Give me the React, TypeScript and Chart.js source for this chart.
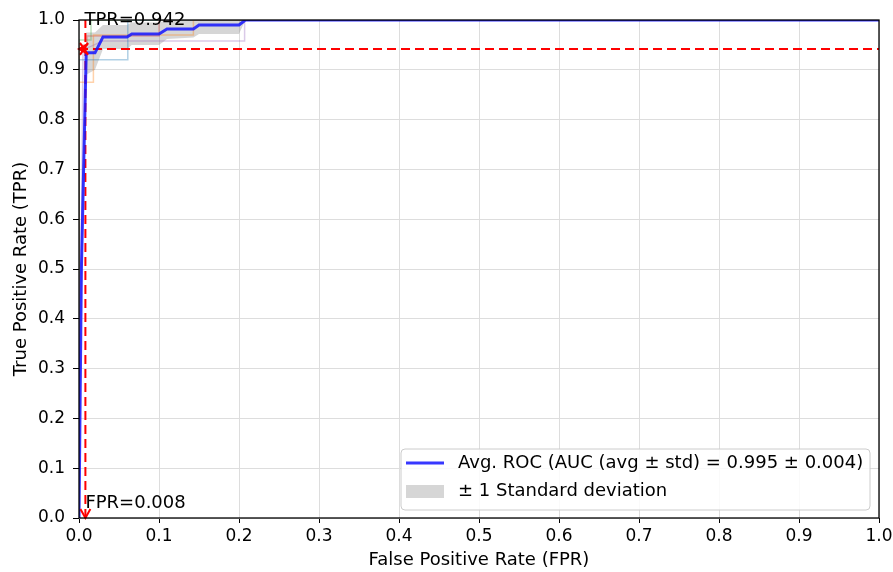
import React, { useEffect, useRef } from 'react';
import { Chart, registerables } from 'chart.js';

Chart.register(...registerables);

// ---- data ----
const axisTicks = [0, 0.1, 0.2, 0.3, 0.4, 0.5, 0.6, 0.7, 0.8, 0.9, 1.0];

const meanFpr = [0, 0.003, 0.009, 0.02, 0.03, 0.06, 0.066, 0.1, 0.11, 0.143, 0.15, 0.2, 0.208, 1.0];
const meanTpr = [0, 0.5, 0.934, 0.934, 0.966, 0.966, 0.972, 0.972, 0.982, 0.982, 0.99, 0.99, 1.0, 1.0];
const stdUpper = [0, 0.6, 0.975, 0.975, 0.99, 0.99, 0.995, 0.995, 1.0, 1.0, 1.0, 1.0, 1.0, 1.0];
const stdLower = [0, 0.4, 0.89, 0.9, 0.942, 0.942, 0.95, 0.95, 0.962, 0.965, 0.972, 0.972, 1.0, 1.0];

const fold1Fpr = [0, 0, 0.061, 0.061, 1.0];
const fold1Tpr = [0, 0.92, 0.92, 1.0, 1.0];
const fold2Fpr = [0, 0, 0.018, 0.018, 0.143, 0.143, 1.0];
const fold2Tpr = [0, 0.875, 0.875, 0.97, 0.97, 1.0, 1.0];
const fold3Fpr = [0, 0.005, 0.03, 0.207, 0.207, 1.0];
const fold3Tpr = [0, 0.94, 0.958, 0.958, 1.0, 1.0];
const fold4Fpr = [0, 0, 0.01, 0.01, 0.1, 0.1, 1.0];
const fold4Tpr = [0, 0.95, 0.95, 0.968, 0.968, 1.0, 1.0];
const fold5Fpr = [0, 0, 0.015, 0.015, 1.0];
const fold5Tpr = [0, 0.96, 0.96, 1.0, 1.0];

const thresholdFpr = 0.008;
const thresholdTpr = 0.942;

const legendLabels = ['Avg. ROC (AUC (avg \u00b1 std) = 0.995 \u00b1 0.004)', '\u00b1 1 Standard deviation'];
const xTitle = 'False Positive Rate (FPR)';
const yTitle = 'True Positive Rate (TPR)';

const FONT = '"DejaVu Sans", sans-serif';
const meanColor = 'rgba(20,20,255,0.85)';
const bandColor = 'rgba(128,128,128,0.32)';

const pts = (xs: number[], ys: number[]) => xs.map((x, i) => ({ x, y: ys[i] }));

const overlayPlugin = {
  id: 'overlay',
  afterDatasetsDraw(chart: any) {
    const { ctx, chartArea: a, scales } = chart;
    const x = scales.x;
    const y = scales.y;
    ctx.save();
    // arrowheads
    ctx.strokeStyle = 'red';
    ctx.lineWidth = 2;
    const ax = x.getPixelForValue(thresholdFpr);
    const ay = y.getPixelForValue(0);
    ctx.beginPath();
    ctx.moveTo(ax - 5, ay - 9);
    ctx.lineTo(ax, ay);
    ctx.lineTo(ax + 5, ay - 9);
    ctx.stroke();
    const bx = x.getPixelForValue(0);
    const by = y.getPixelForValue(thresholdTpr);
    ctx.beginPath();
    ctx.moveTo(bx + 9, by - 5);
    ctx.lineTo(bx, by);
    ctx.lineTo(bx + 9, by + 5);
    ctx.stroke();
    ctx.beginPath();
    ctx.moveTo(bx + 1, by - 6);
    ctx.lineTo(bx + 9, by + 6);
    ctx.moveTo(bx + 1, by + 6);
    ctx.lineTo(bx + 9, by - 6);
    ctx.stroke();

    // spines
    ctx.strokeStyle = '#000';
    ctx.lineWidth = 1.3;
    ctx.strokeRect(a.left, a.top, a.right - a.left, a.bottom - a.top);

    // annotation texts
    ctx.fillStyle = '#000';
    ctx.font = `18px ${FONT}`;
    ctx.textBaseline = 'alphabetic';
    ctx.textAlign = 'left';
    ctx.fillText('TPR=0.942', x.getPixelForValue(thresholdFpr) - 1, a.top + 5);
    ctx.fillText('FPR=0.008', x.getPixelForValue(thresholdFpr), y.getPixelForValue(0.02));

    // legend
    const lx = 401, ly = 449, lw = 469, lh = 61, r = 4;
    ctx.beginPath();
    ctx.moveTo(lx + r, ly);
    ctx.lineTo(lx + lw - r, ly);
    ctx.arcTo(lx + lw, ly, lx + lw, ly + r, r);
    ctx.lineTo(lx + lw, ly + lh - r);
    ctx.arcTo(lx + lw, ly + lh, lx + lw - r, ly + lh, r);
    ctx.lineTo(lx + r, ly + lh);
    ctx.arcTo(lx, ly + lh, lx, ly + lh - r, r);
    ctx.lineTo(lx, ly + r);
    ctx.arcTo(lx, ly, lx + r, ly, r);
    ctx.closePath();
    ctx.fillStyle = 'rgba(255,255,255,0.85)';
    ctx.fill();
    ctx.strokeStyle = '#cccccc';
    ctx.lineWidth = 1;
    ctx.stroke();

    ctx.strokeStyle = meanColor;
    ctx.lineWidth = 3;
    ctx.beginPath();
    ctx.moveTo(406, 463);
    ctx.lineTo(444, 463);
    ctx.stroke();
    ctx.fillStyle = bandColor;
    ctx.fillRect(406, 485, 38, 13);

    ctx.fillStyle = '#000';
    ctx.textBaseline = 'middle';
    ctx.fillText(legendLabels[0], 458, 463);
    ctx.fillText(legendLabels[1], 458, 491);
    ctx.restore();
  },
};

function ChartView() {
  const ref = useRef<HTMLCanvasElement | null>(null);
  useEffect(() => {
    document.body.style.margin = '0';
    const canvas = ref.current;
    if (!canvas) return;
    const chart = new Chart(canvas, {
      type: 'line',
      data: {
        datasets: [
          {
            label: legendLabels[0],
            data: pts(meanFpr, meanTpr),
            borderColor: meanColor,
            borderWidth: 3,
            pointRadius: 0,
            fill: false,
            order: 0,
          },
          {
            label: 'upper',
            data: pts(meanFpr, stdUpper),
            borderWidth: 0,
            borderColor: 'rgba(0,0,0,0)',
            backgroundColor: bandColor,
            pointRadius: 0,
            fill: 2,
            order: 5,
          },
          {
            label: 'lower',
            data: pts(meanFpr, stdLower),
            borderWidth: 0,
            borderColor: 'rgba(0,0,0,0)',
            pointRadius: 0,
            fill: false,
            order: 5,
          },
          { label: 'f1', data: pts(fold1Fpr, fold1Tpr), borderColor: 'rgba(31,119,180,0.35)', borderWidth: 1.5, pointRadius: 0, fill: false, order: 3 },
          { label: 'f2', data: pts(fold2Fpr, fold2Tpr), borderColor: 'rgba(255,127,14,0.35)', borderWidth: 1.5, pointRadius: 0, fill: false, order: 3 },
          { label: 'f3', data: pts(fold3Fpr, fold3Tpr), borderColor: 'rgba(148,103,189,0.35)', borderWidth: 1.5, pointRadius: 0, fill: false, order: 3 },
          { label: 'f4', data: pts(fold4Fpr, fold4Tpr), borderColor: 'rgba(214,39,40,0.3)', borderWidth: 1.5, pointRadius: 0, fill: false, order: 3 },
          { label: 'f5', data: pts(fold5Fpr, fold5Tpr), borderColor: 'rgba(44,160,44,0.3)', borderWidth: 1.5, pointRadius: 0, fill: false, order: 3 },
          {
            label: 'hline',
            data: [{ x: 0, y: thresholdTpr }, { x: 1, y: thresholdTpr }],
            borderColor: 'red',
            borderWidth: 2,
            borderDash: [9, 5],
            pointRadius: 0,
            fill: false,
            order: 1,
          },
          {
            label: 'vline',
            data: [{ x: thresholdFpr, y: 0 }, { x: thresholdFpr, y: 1 }],
            borderColor: 'red',
            borderWidth: 2,
            borderDash: [9, 5],
            pointRadius: 0,
            fill: false,
            order: 1,
          },
        ],
      },
      options: {
        responsive: false,
        animation: false,
        layout: { padding: { top: 20, right: 14, left: 0, bottom: 0 } },
        elements: { line: { tension: 0 } },
        plugins: {
          legend: { display: false },
          tooltip: { enabled: false },
          filler: { propagate: false },
        },
        scales: {
          x: {
            type: 'linear',
            min: 0,
            max: 1,
            afterBuildTicks: (s: any) => { s.ticks = axisTicks.map((v) => ({ value: v })); },
            afterFit: (s: any) => { s.height = 54; s.paddingLeft = 0; s.paddingRight = 0; },
            ticks: {
              color: '#000',
              font: { family: FONT, size: 17 },
              padding: 3,
              maxRotation: 0,
              autoSkip: false,
              callback: (v: any) => Number(v).toFixed(1),
            },
            grid: { color: '#dddddd', tickColor: '#000', tickLength: 5, lineWidth: 1 },
            border: { display: false },
            title: {
              display: true,
              text: xTitle,
              color: '#000',
              font: { family: FONT, size: 18 },
              padding: { top: 0, bottom: 1 },
            },
          },
          y: {
            type: 'linear',
            min: 0,
            max: 1,
            afterBuildTicks: (s: any) => { s.ticks = axisTicks.map((v) => ({ value: v })); },
            afterFit: (s: any) => { s.width = 79; s.paddingTop = 0; s.paddingBottom = 0; },
            ticks: {
              color: '#000',
              font: { family: FONT, size: 17 },
              padding: 8,
              autoSkip: false,
              callback: (v: any) => Number(v).toFixed(1),
            },
            grid: { color: '#dddddd', tickColor: '#000', tickLength: 6, lineWidth: 1 },
            border: { display: false },
            title: {
              display: true,
              text: yTitle,
              color: '#000',
              font: { family: FONT, size: 18 },
              padding: { top: 11, bottom: 0 },
            },
          },
        },
      },
      plugins: [overlayPlugin],
    } as any);
    return () => chart.destroy();
  }, []);
  return (
    <div style={{ width: 893, height: 572, background: '#fff' }}>
      <canvas ref={ref} width={893} height={572} style={{ display: 'block' }} />
    </div>
  );
}

export default function App() {
  return <ChartView />;
}
